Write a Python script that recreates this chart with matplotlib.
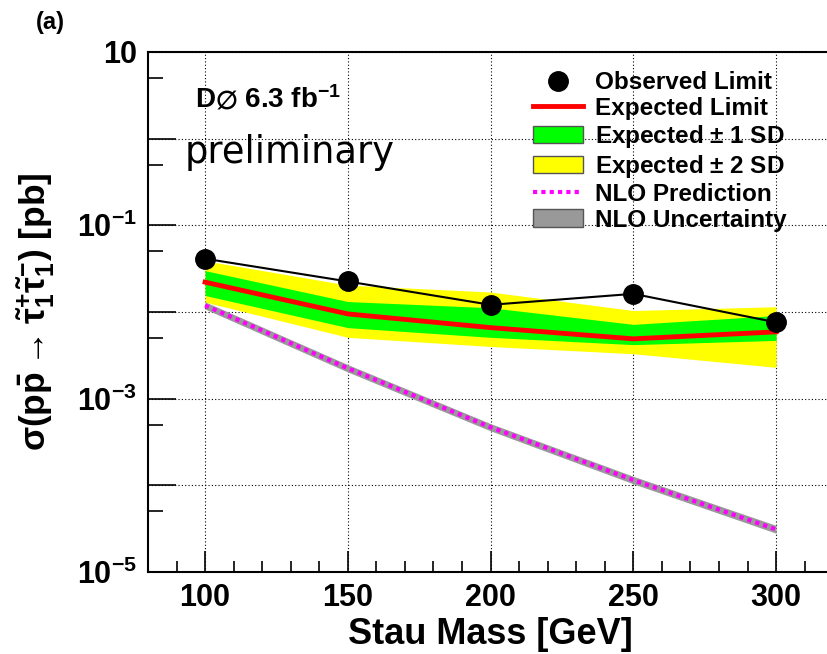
import numpy as np
import matplotlib
matplotlib.use('Agg')
import matplotlib.pyplot as plt
from matplotlib.patches import Patch
from matplotlib.lines import Line2D
from matplotlib.ticker import FixedLocator, NullFormatter, FixedFormatter

plt.rcParams['font.family'] = ['Liberation Sans', 'DejaVu Sans']
plt.rcParams['font.weight'] = 'bold'
plt.rcParams['mathtext.fontset'] = 'custom'
plt.rcParams['mathtext.rm'] = 'Liberation Sans:bold'
plt.rcParams['mathtext.bf'] = 'Liberation Sans:bold'
plt.rcParams['mathtext.it'] = 'Liberation Sans:italic'

# stau mass points [GeV]
mass = [100, 150, 200, 250, 300]
# cross section limits [pb]
observed = [0.0412, 0.0225, 0.0121, 0.0162, 0.0076]
expected = [0.0221, 0.0095, 0.0066, 0.0049, 0.0059]
exp_1sd_hi = [0.030, 0.0132, 0.0112, 0.0072, 0.0091]
exp_1sd_lo = [0.0155, 0.0066, 0.0051, 0.0042, 0.0047]
exp_2sd_hi = [0.039, 0.0204, 0.0170, 0.0104, 0.0115]
exp_2sd_lo = [0.0130, 0.0051, 0.0040, 0.0033, 0.0023]
# NLO prediction and its uncertainty band
nlo = [0.0119, 0.00224, 0.000468, 0.000115, 0.000031]
nlo_hi = [0.0131, 0.00247, 0.000515, 0.000127, 0.0000345]
nlo_lo = [0.0108, 0.00203, 0.000425, 0.000104, 0.0000280]

fig = plt.figure(figsize=(8.28, 6.54), dpi=100)
ax = fig.add_axes([0.1787, 0.1254, 0.8276, 0.7951])

ax.fill_between(mass, exp_2sd_lo, exp_2sd_hi, color='#ffff00', lw=0, zorder=2)
ax.fill_between(mass, exp_1sd_lo, exp_1sd_hi, color='#00ff00', lw=0, zorder=3)
ax.plot(mass, expected, color='#ff0000', lw=3.5, zorder=4)
ax.fill_between(mass, nlo_lo, nlo_hi, color='#999999', lw=0, zorder=4)
ax.plot(mass, nlo, color='#ff00ff', lw=3, ls=(0, (1, 1)), zorder=5)
ax.plot(mass, observed, color='black', lw=1.5, marker='o', ms=14, zorder=6)

ax.set_yscale('log')
ax.set_xlim(80, 320)
ax.set_ylim(1e-5, 10)

ax.xaxis.set_major_locator(FixedLocator([100, 150, 200, 250, 300]))
ax.xaxis.set_minor_locator(FixedLocator(np.arange(90, 320, 10)))
ax.yaxis.set_major_locator(FixedLocator([1e-5, 1e-4, 1e-3, 1e-2, 1e-1, 1, 10]))
ax.yaxis.set_major_formatter(FixedFormatter(['$10^{-5}$', '', '$10^{-3}$', '',
                                             '$10^{-1}$', '', '10']))
ax.yaxis.set_minor_locator(FixedLocator([5e-5, 5e-4, 5e-3, 5e-2, 5e-1, 5]))
ax.yaxis.set_minor_formatter(NullFormatter())

ax.tick_params(axis='both', which='both', direction='in', labelsize=22)
ax.tick_params(axis='y', which='major', length=20, width=1.2, pad=8)
ax.tick_params(axis='y', which='minor', length=11, width=1.2)
ax.tick_params(axis='x', which='major', length=15, width=1.2, pad=8)
ax.tick_params(axis='x', which='minor', length=8, width=1.2)
ax.grid(True, which='major', color='black', ls=(0, (1, 2)), lw=0.8)
for s in ax.spines.values():
    s.set_linewidth(1.5)

ax.set_xlabel('Stau Mass [GeV]', fontsize=26, fontweight='bold', labelpad=3)
ax.set_ylabel(r'$\mathrm{\sigma(p\bar{p} \rightarrow \tilde{\tau}_1^{+}\tilde{\tau}_1^{-})}$ [pb]',
              fontsize=25.5, fontweight='bold')
ax.yaxis.set_label_coords(-0.133, 0.5)

fig.text(0.043, 0.966, '(a)', fontsize=17, fontweight='bold', va='center')
ax.text(0.0686, 0.894, r'D$\varnothing$ 6.3 fb$^{-1}$', transform=ax.transAxes,
        fontsize=20, fontweight='bold', va='baseline')
ax.text(0.054, 0.787, 'preliminary', transform=ax.transAxes, fontsize=26.5,
        fontweight='normal', family='DejaVu Sans', va='baseline')

handles = [
    Line2D([], [], color='black', marker='o', ms=14, ls='none'),
    Line2D([], [], color='#ff0000', lw=3.5),
    Patch(facecolor='#00ff00', edgecolor='#555555', lw=1),
    Patch(facecolor='#ffff00', edgecolor='#555555', lw=1),
    Line2D([], [], color='#ff00ff', lw=3, ls=(0, (1, 1))),
    Patch(facecolor='#999999', edgecolor='#555555', lw=1),
]
labels = ['Observed Limit', 'Expected Limit', 'Expected $\\pm$ 1 SD',
          'Expected $\\pm$ 2 SD', 'NLO Prediction', 'NLO Uncertainty']
ax.legend(handles, labels, loc='upper left', bbox_to_anchor=(0.562, 0.963),
          frameon=False, fontsize=17.5, handlelength=2.05, handleheight=0.75,
          labelspacing=0.12, handletextpad=0.5, borderpad=0, borderaxespad=0)

fig.savefig('out.png', dpi=100)
